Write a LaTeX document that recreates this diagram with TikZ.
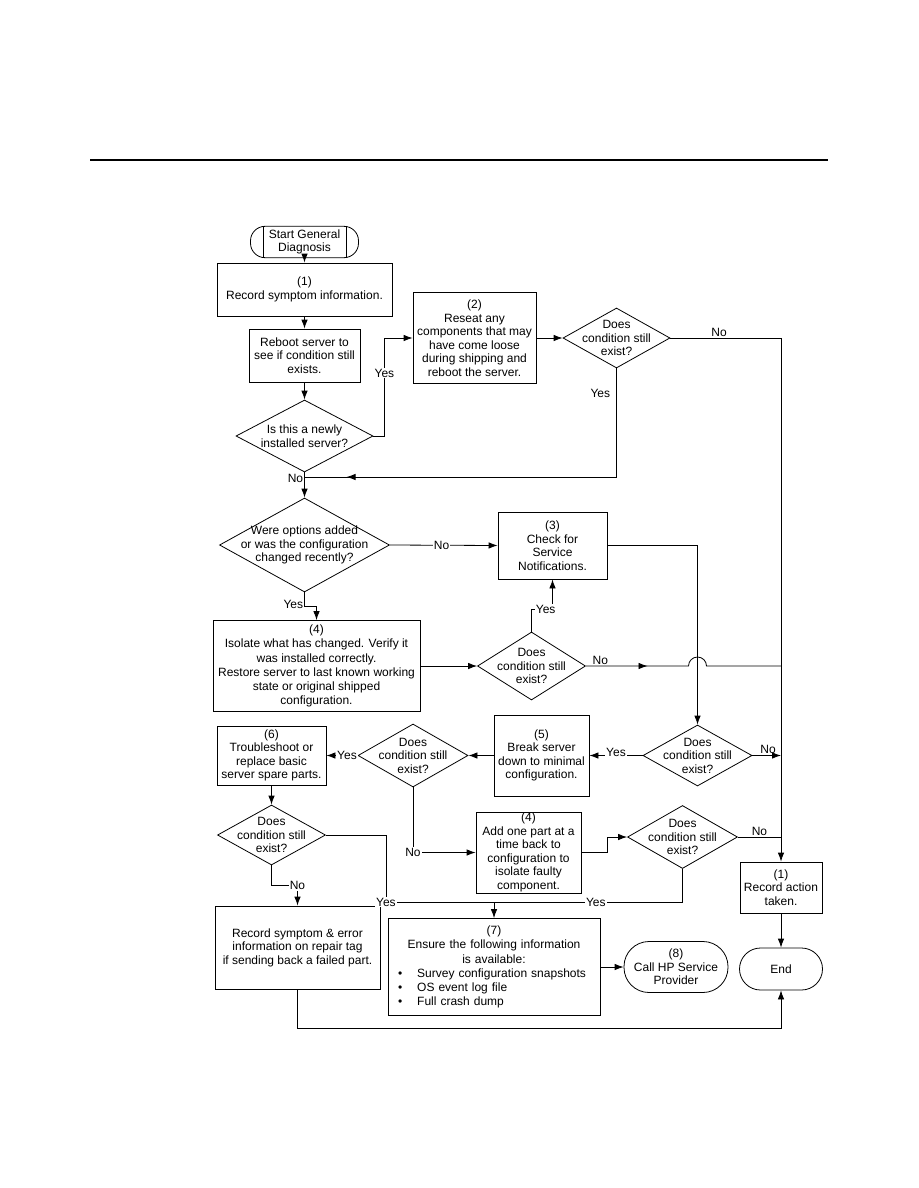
\documentclass[tikz,border=0pt]{standalone}
\usepackage{fontspec}
\setmainfont{Liberation Sans}
\usepackage{tikz}
\usetikzlibrary{shapes.geometric, arrows.meta, decorations.markings}
\tikzset{
    box/.style = {rectangle, draw, align=center, inner xsep=2pt, inner ysep=0pt, line width=0.8pt},
    decision/.style = {diamond, draw, align=center, inner sep=-30pt, line width=0.8pt},
    terminal/.style = {rectangle, draw, align=center, rounded corners=#1, line width=0.8pt},
    line/.style = {draw, line width=0.8pt, -{Latex[length=9pt, width=6.5pt]}},
    plainline/.style = {draw, line width=0.8pt},
    midline/.style = {draw, line width=0.8pt, postaction={decorate},
        decoration={markings, mark=at position #1 with {\arrow{Latex[length=9pt, width=6.5pt]}}}},
    edgelabel/.style = {fill=white, inner sep=1pt},
    sidelabel/.style = {inner sep=1pt}
}
\newcommand{\bulletitem}[1]{\makebox[\linewidth][l]{\hspace{2pt}\textbullet\hspace{15pt}#1}}

\begin{document}
\begin{tikzpicture}[x=1pt, y=-1pt, font=\fontsize{12}{13.5}\selectfont]
        \useasboundingbox (0,0) rectangle (918,1188);
        % Header rule
        \draw [line width=2.2pt] (90,160) -- (828,160);

        % Nodes
        \node [terminal=14.5pt, minimum width=108pt, minimum height=29pt] (start) at (304.5,242) {Start General\\Diagnosis};
        \draw [plainline] ([xshift=-41pt]start.north) -- ([xshift=-41pt]start.south);
        \draw [plainline] ([xshift=42pt]start.north) -- ([xshift=42pt]start.south);
        \node [box, minimum width=175pt, minimum height=53pt] (symptom) at (304.5,289.5) {(1)\\Record symptom information.};
        \node [box, minimum width=111pt, minimum height=53pt] (reboot) at (304.5,355.5) {Reboot server to\\see if condition still\\exists.};
        \node [decision, minimum width=137pt, minimum height=72pt] (newserver) at (304.5,436) {Is this a newly\\installed server?};
        \node [box, minimum width=123pt, minimum height=91pt] (reseat) at (474.5,338) {(2)\\Reseat any\\components that may\\have come loose\\during shipping and\\reboot the server.};
        \node [decision, minimum width=107pt, minimum height=60pt] (exists1) at (616.5,338) {Does\\condition still\\exist?};
        \node [decision, minimum width=170pt, minimum height=94pt] (options) at (304.5,545) {Were options added\\or was the configuration\\changed recently?};
        \node [box, minimum width=109pt, minimum height=67pt] (notify) at (552.5,545.5) {(3)\\Check for\\Service\\Notifications.};
        \node [box, minimum width=207pt, minimum height=91pt, font=\fontsize{12}{14.2}\selectfont] (isolate) at (316.5,666) {(4)\\Isolate what has changed. Verify it\\was installed correctly.\\Restore server to last known working\\state or original shipped\\configuration.};
        \node [decision, minimum width=108pt, minimum height=68pt] (exists2) at (531.5,666) {Does\\condition still\\exist?};
        \node [decision, minimum width=109pt, minimum height=61pt] (exists3) at (697.5,755.5) {Does\\condition still\\exist?};
        \node [box, minimum width=95pt, minimum height=81pt] (breakdown) at (541.5,755.5) {(5)\\Break server\\down to minimal\\configuration.};
        \node [decision, minimum width=110pt, minimum height=63pt] (exists4) at (413,755.5) {Does\\condition still\\exist?};
        \node [box, minimum width=109pt, minimum height=59pt] (spares) at (271.5,755.5) {(6)\\Troubleshoot or\\replace basic\\server spare parts.};
        \node [decision, minimum width=108pt, minimum height=60pt] (exists5) at (271.5,835) {Does\\condition still\\exist?};
        \node [box, minimum width=105pt, minimum height=81pt] (addpart) at (528.5,852.5) {(4)\\Add one part at a\\time back to\\configuration to\\isolate faulty\\component.};
        \node [decision, minimum width=110pt, minimum height=63pt] (exists6) at (682.5,837) {Does\\condition still\\exist?};
        \node [box, minimum width=82pt, minimum height=51pt] (action) at (781,887.5) {(1)\\Record action\\taken.};
        \node [box, minimum width=165pt, minimum height=83pt] (errortag) at (297.5,947.5) {Record symptom \& error\\information on repair tag\\if sending back a failed part.};
        \node [box, inner xsep=8pt, text width=196pt, minimum height=97pt, font=\fontsize{12}{14.2}\selectfont] (ensure) at (494,967) {(7)\\Ensure the following information\\is available:\\\bulletitem{Survey configuration snapshots}\\\bulletitem{OS event log file}\\\bulletitem{Full crash dump}};
        \node [terminal=25pt, minimum width=104pt, minimum height=51pt] (callhp) at (676,967) {(8)\\Call HP Service\\Provider};
        \node [terminal=21pt, minimum width=83pt, minimum height=42pt] (finish) at (781,969) {End};

        % Junctions
        \coordinate (merge) at (304.5,477);
        \coordinate (hop) at (exists3 |- exists2);
        \coordinate (join1) at (action |- exists2);
        \coordinate (join2) at (action |- exists3);
        \coordinate (join3) at (action |- exists6);
        \coordinate (collect) at (494,902);

        % Edges
        \path [line] (start) -- (symptom);
        \path [line] (symptom) -- (reboot);
        \path [line] (reboot) -- (newserver);
        \path [line] (newserver.east) -- ++(11,0) |- node[edgelabel, pos=0.32] {Yes} (reseat.west);
        \path [line] (reseat) -- (exists1);
        \path [line] (exists1.east) -| node[sidelabel, above, pos=0.22] {No} (action.north);
        \path [midline=0.9] (exists1.south) |- node[sidelabel, left, pos=0.115, xshift=-5pt] {Yes} (merge);
        \path [line] (newserver.south) -- node[sidelabel, left, pos=0.25] {No} (options.north);
        \path [line] (options.east) -- node[edgelabel, pos=0.48] {No} (notify.west);
        \path [line] (options.south) -- ++(0,14) node[sidelabel, anchor=east, yshift=2pt] {Yes} -| (isolate.north);
        \path [line] (isolate) -- (exists2);
        \path [line] (exists2.north) -- ++(0,-22) node[edgelabel, anchor=west, xshift=3pt] {Yes} -| (notify.south);
        \path [midline=0.3] (exists2.east) -- node[sidelabel, above, pos=0.14] {No} ([xshift=-9pt]hop) arc[start angle=180, end angle=0, radius=9pt] -- (join1);
        \path [line] (notify.east) -| (exists3.north);
        \path [line] (exists3.east) -- node[sidelabel, above, pos=0.55] {No} (join2);
        \path [line] (exists3.west) -- node[edgelabel, pos=0.5, yshift=3pt] {Yes} (breakdown.east);
        \path [line] (breakdown) -- (exists4);
        \path [line] (exists4.west) -- node[edgelabel, pos=0.34] {Yes} (spares.east);
        \path [line] (spares) -- (exists5);
        \path [line] (exists5.south) -- ++(0,20) -| node[edgelabel] {No} (errortag.north);
        \path [line] (exists4.south) |- node[edgelabel] {No} (addpart.west);
        \path [line] (addpart.east) -- ++(26,0) |- (exists6.west);
        \path [plainline] (exists6.east) -- node[sidelabel, above] {No} (join3);
        \path [plainline] (exists5.east) -- ++(60,0) |- node[edgelabel] {Yes} (collect);
        \path [plainline] (exists6.south) |- node[edgelabel, pos=0.73] {Yes} (collect);
        \path [line] (collect) -- (ensure);
        \path [line] (ensure) -- (callhp);
        \path [line] (action) -- (finish);
        \path [line] (errortag.south) -- ++(0,39) -| (finish.south);
    \end{tikzpicture}
\end{document}
